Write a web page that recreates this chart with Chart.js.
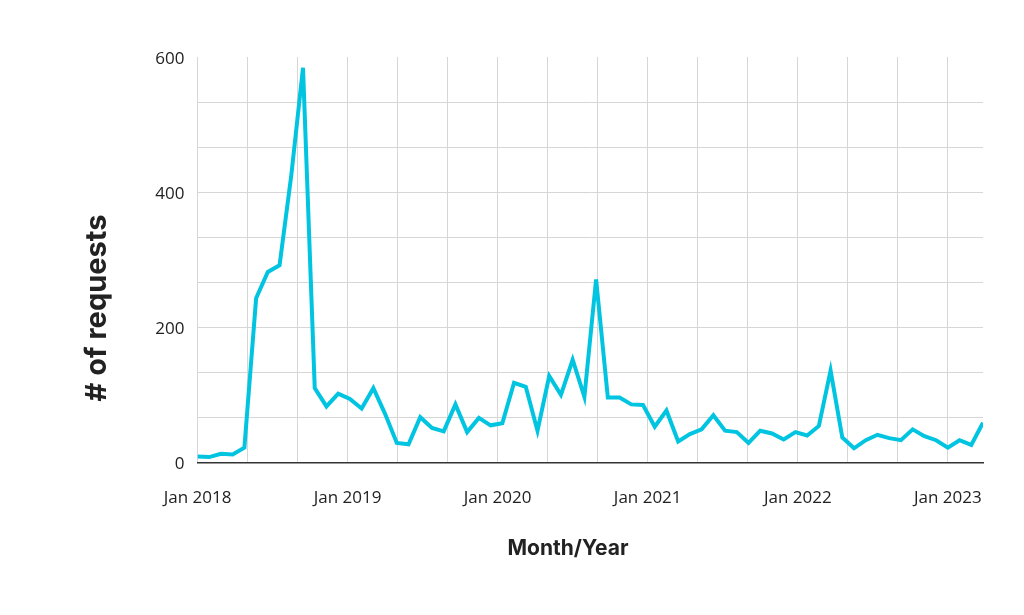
<!DOCTYPE html>
<html>
<head>
<meta charset="utf-8">
<script src="https://cdn.jsdelivr.net/npm/chart.js@4"></script>
<style>
  html, body { margin: 0; padding: 0; background: #ffffff; }
  #wrap { width: 1024px; height: 615px; }
</style>
</head>
<body>
<div id="wrap"><canvas id="requestsChart"></canvas></div>
<script>
// Requests per period (Jan 2018 - spring 2023)
const requests = [
    9, 8, 13, 12, 22, 243, 282, 292, 425, 584,
    110, 83, 102, 94, 80, 110, 72, 29, 27, 67,
    51, 46, 86, 45, 66, 55, 58, 118, 112, 47,
    128, 100, 152, 97, 271, 96, 96, 86, 85, 53,
    77, 31, 42, 49, 70, 47, 45, 29, 47, 43,
    34, 45, 40, 54, 136, 37, 21, 33, 41, 36,
    33, 49, 39, 33, 22, 33, 26, 59
];
const yearLabels = ['Jan 2018', 'Jan 2019', 'Jan 2020', 'Jan 2021', 'Jan 2022', 'Jan 2023'];
const pointsPerYear = 12.8;     // sampling density seen on the x axis
const yTicks = [0, 200, 400, 600];

const tickFont = { family: '"Open Sans", "Noto Sans", sans-serif', size: 17 };
const gridGray = '#d6d6d6';

// Axis titles sit off-centre in the reference, so draw them by hand
const axisTitles = {
    id: 'axisTitles',
    afterDraw(chart) {
        const ctx = chart.ctx;
        ctx.save();
        ctx.fillStyle = '#222222';
        ctx.textAlign = 'center';
        ctx.textBaseline = 'middle';

        ctx.font = '700 21px Inter, "Noto Sans", sans-serif';
        ctx.fillText('Month/Year', 568, 549);

        ctx.translate(97, 308);
        ctx.rotate(-Math.PI / 2);
        ctx.font = '700 29px Inter, "Noto Sans", sans-serif';
        ctx.fillText('# of requests', 0, 0);
        ctx.restore();
    }
};

new Chart(document.getElementById('requestsChart'), {
    type: 'line',
    data: {
        datasets: [{
            label: '# of requests',
            data: requests.map((v, i) => ({ x: i, y: v })),
            borderColor: '#00c4e0',
            borderWidth: 4,
            pointRadius: 0,
            tension: 0,
            fill: false
        }]
    },
    options: {
        responsive: true,
        maintainAspectRatio: false,
        animation: false,
        layout: {
            padding: { top: 57, right: 41, bottom: 0, left: 0 }
        },
        plugins: {
            legend: { display: false },
            tooltip: { enabled: false }
        },
        scales: {
            x: {
                type: 'linear',
                min: 0,
                max: requests.length - 1,
                afterBuildTicks: (axis) => {
                    // one gridline every 4 months, label every January
                    const ticks = [];
                    for (let k = 0; k <= (yearLabels.length - 1) * 3; k++) {
                        ticks.push({ value: k * pointsPerYear / 3 });
                    }
                    axis.ticks = ticks;
                },
                afterFit: (axis) => { axis.height = 152.5; },
                ticks: {
                    autoSkip: false,
                    maxRotation: 0,
                    padding: 25,
                    color: '#222222',
                    font: tickFont,
                    callback: (value, index) => index % 3 === 0 ? yearLabels[index / 3] : ''
                },
                grid: {
                    color: gridGray,
                    lineWidth: 1,
                    drawTicks: false
                },
                border: {
                    display: true,
                    color: '#333333',
                    width: 1.5
                }
            },
            y: {
                min: 0,
                max: 600,
                afterBuildTicks: (axis) => {
                    const ticks = [];
                    for (let k = 0; k <= 9; k++) ticks.push({ value: k * 600 / 9 });
                    axis.ticks = ticks;
                },
                afterFit: (axis) => { axis.width = 197.5; },
                ticks: {
                    padding: 13,
                    labelOffset: 2,
                    color: '#222222',
                    font: tickFont,
                    callback: (value, index) => index % 3 === 0 ? String(yTicks[index / 3]) : ''
                },
                grid: {
                    color: (c) => (c.index === 0 || c.index === 9) ? 'rgba(0,0,0,0)' : gridGray,
                    lineWidth: 1,
                    drawTicks: false
                },
                border: { display: false }
            }
        }
    },
    plugins: [axisTitles]
});
</script>
</body>
</html>
